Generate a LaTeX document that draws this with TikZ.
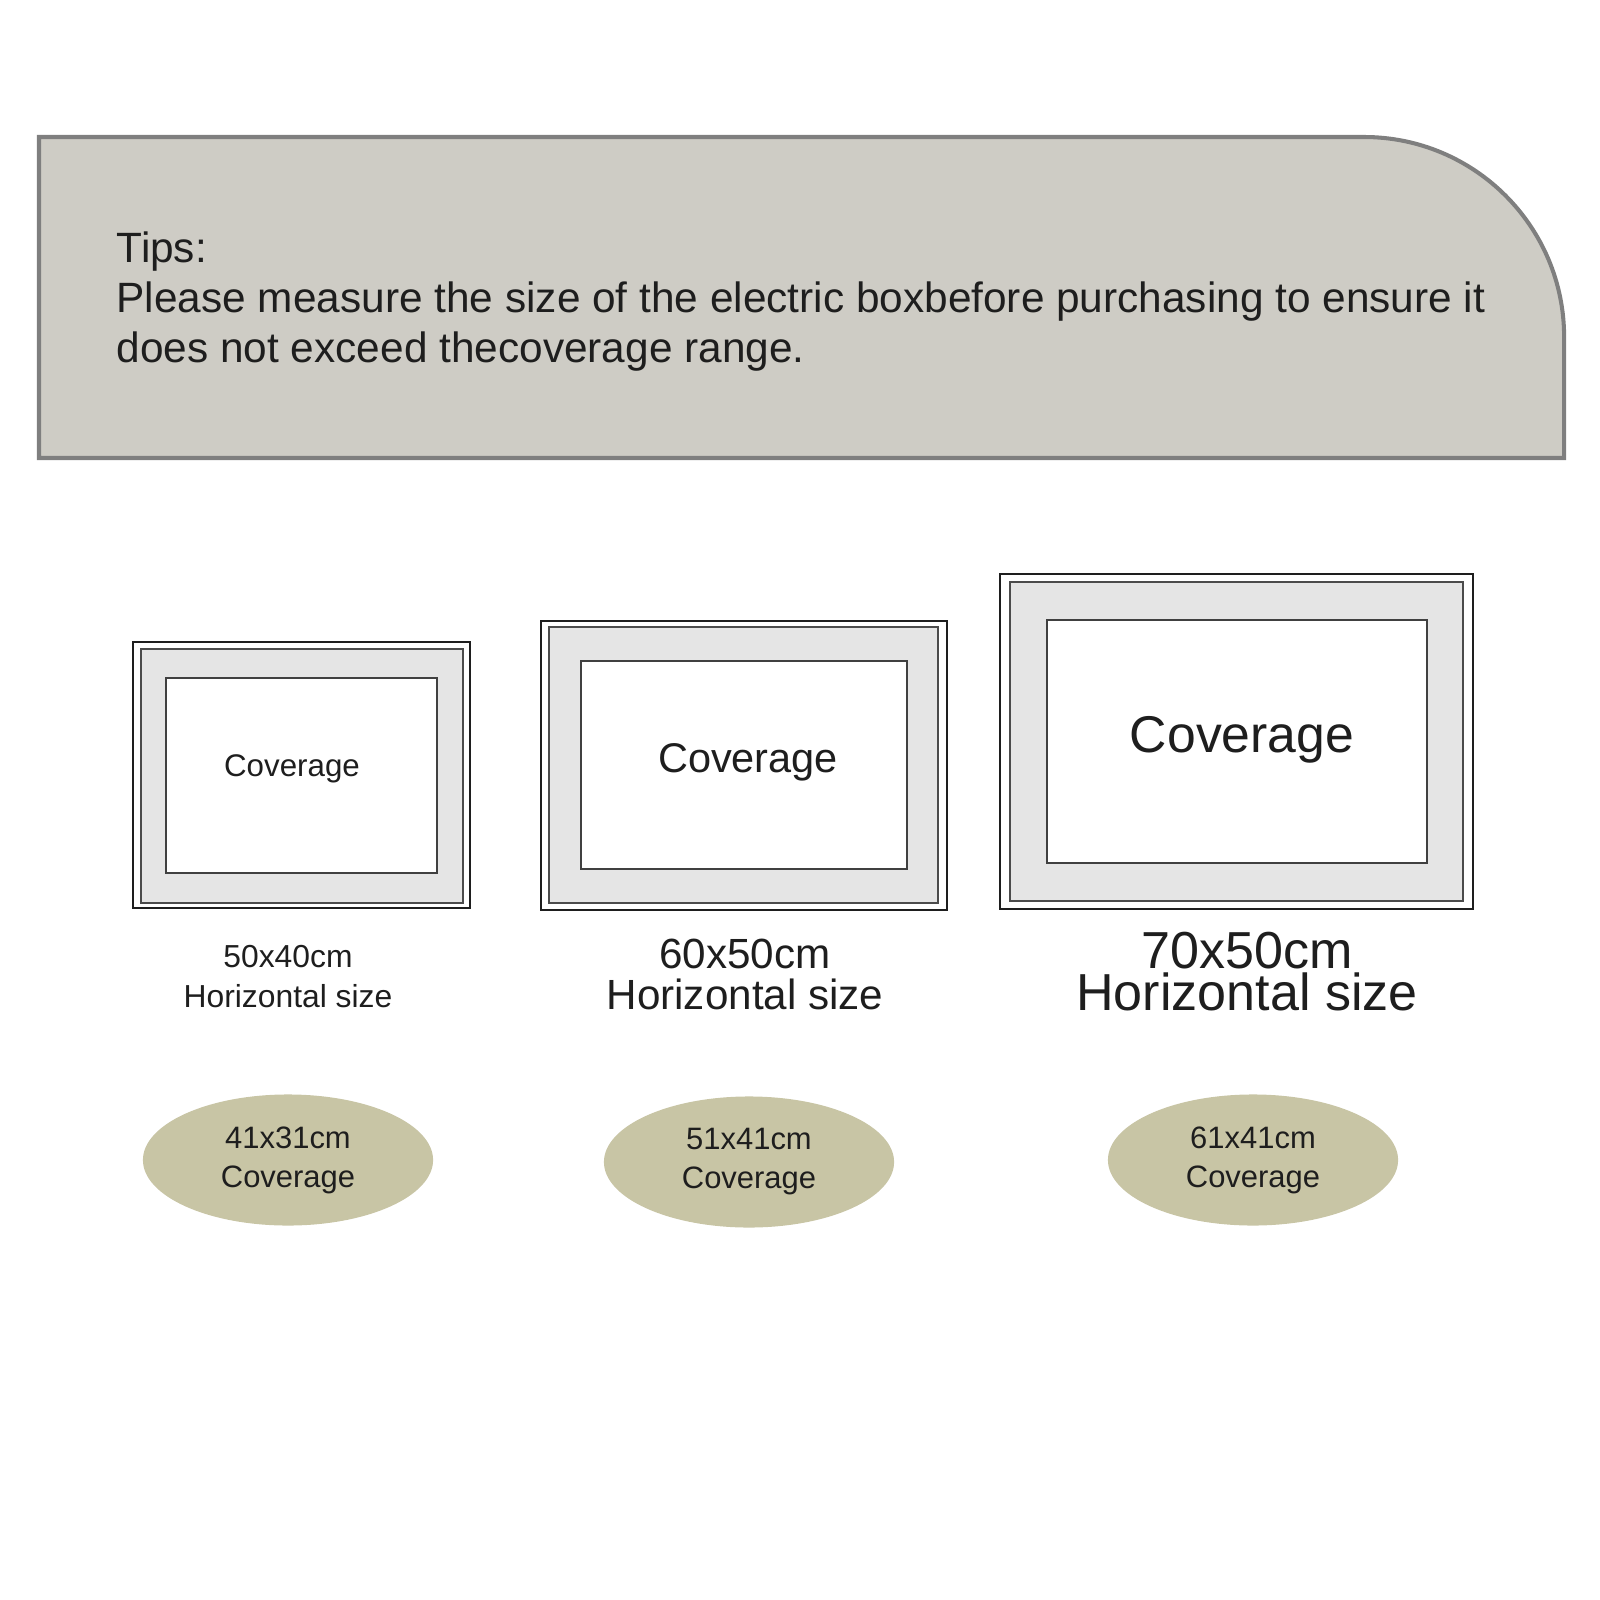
\documentclass[tikz,border=0pt]{standalone}
\usepackage{fontspec}
\setmainfont{Liberation Sans}
\usetikzlibrary{shapes.geometric}
\definecolor{tipsgray}{HTML}{CECCC5}
\definecolor{tipsedge}{HTML}{7F7F7F}
\definecolor{matgray}{HTML}{E5E5E5}
\definecolor{ovalfill}{HTML}{C8C5A5}
\definecolor{ink}{HTML}{1E1E1E}
\tikzset{
  tipsbox/.style={fill=tipsgray,draw=tipsedge,line width=1.15pt},
  outerframe/.style={draw=ink,line width=0.6pt},
  matframe/.style={fill=matgray,draw=ink!80,line width=0.7pt},
  coverbox/.style={fill=white,draw=ink!85,line width=0.7pt},
  covertext/.style={anchor=base,inner sep=0pt,text=ink},
  sizetext/.style={anchor=base,align=center,inner sep=0pt,text=ink},
  sizeoval/.style={ellipse,fill=ovalfill,minimum width=2.9cm,minimum height=1.31cm,
    inner sep=0pt,align=center,text=ink,font=\fontsize{8.8}{11.1}\selectfont}
}

\begin{document}
\begin{tikzpicture}[x=0.01cm,y=-0.01cm]
    \useasboundingbox (0,0) rectangle (1600,1600);

    % tips panel
    \draw[tipsbox] (39,458) -- (39,137) -- (1364,137)
      arc[start angle=90,end angle=0,radius=2cm] -- (1564,458) -- cycle;
    % base of a multi-line node sits on its last line
    \node[anchor=base west,align=left,inner sep=0pt,text=ink,
      font=\fontsize{12.05}{14.2}\selectfont] (tipsnote) at (116,362)
      {Tips:\\Please measure the size of the electric boxbefore purchasing to ensure it\\does not exceed thecoverage range.};

    % 50x40 frame
    \draw[outerframe] (133,642) rectangle (470,908);
    \draw[matframe] (141,649) rectangle (463,903);
    \draw[coverbox] (166,678) rectangle (437,873);
    \node[covertext,font=\fontsize{8.9}{10}\selectfont] (cov1) at (292,776) {Coverage};

    % 60x50 frame
    \draw[outerframe] (541,621) rectangle (947,910);
    \draw[matframe] (549,627) rectangle (938,903);
    \draw[coverbox] (581,661) rectangle (907,869);
    \node[covertext,font=\fontsize{11.8}{13}\selectfont] (cov2) at (748,772) {Coverage};

    % 70x50 frame
    \draw[outerframe] (1000,574) rectangle (1473,909);
    \draw[matframe] (1010,582) rectangle (1463,901);
    \draw[coverbox] (1047,620) rectangle (1427,863);
    \node[covertext,font=\fontsize{14.7}{16}\selectfont] (cov3) at (1242,752) {Coverage};

    % sizes
    \node[sizetext,font=\fontsize{9.05}{11.1}\selectfont] (size1) at (288,1007) {50x40cm\\Horizontal size};
    \node[sizetext,font=\fontsize{12.0}{11.4}\selectfont] (size2) at (745,1009) {60x50cm\\Horizontal size};
    \node[sizetext,font=\fontsize{14.8}{11.7}\selectfont] (size3) at (1247,1010) {70x50cm\\Horizontal size};

    % coverage ovals
    \node[sizeoval] (oval1) at (288,1160) {41x31cm\\Coverage};
    \node[sizeoval] (oval2) at (749,1162) {51x41cm\\Coverage};
    \node[sizeoval] (oval3) at (1253,1160) {61x41cm\\Coverage};
\end{tikzpicture}
\end{document}
